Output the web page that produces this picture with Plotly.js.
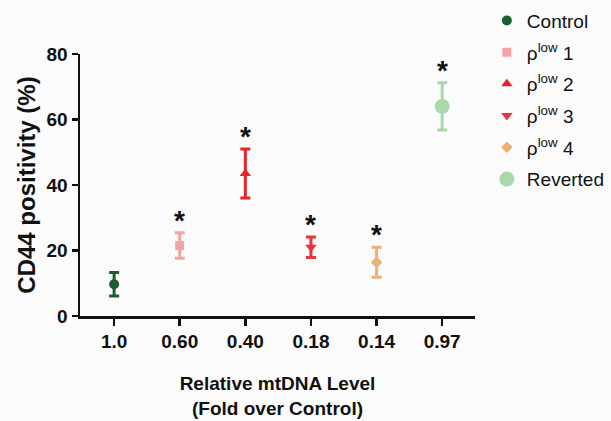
<!DOCTYPE html>
<html><head><meta charset="utf-8">
<script src="https://cdn.plot.ly/plotly-3.0.1.min.js"></script>
<style>html,body{margin:0;padding:0;background:#fff}#chart{width:611px;height:421px}</style>
</head><body><div id="chart"></div>
<script>
var categories = ["1.0","0.60","0.40","0.18","0.14","0.97"];
var seriesNames = ["Control","ρ<sup>low</sup> 1","ρ<sup>low</sup> 2","ρ<sup>low</sup> 3","ρ<sup>low</sup> 4","Reverted"];
var means = [9.7, 21.5, 43.5, 21.0, 16.4, 64.0];
var errors = [3.6, 3.9, 7.5, 3.1, 4.6, 7.2];
var significant = [false, true, true, true, true, true];
var colors = ["#1d5e30","#f4a3a3","#e8242b","#e8353a","#eab277","#a9d9a9"];
var symbols = ["circle","square","triangle-up","triangle-down","diamond","circle"];
var sizes = [10, 9, 10, 10, 9, 15];

var traces = categories.map(function(c, i){
  return {
    type:'scatter', mode:'markers', name: seriesNames[i], legendgroup:'g'+i,
    x:[c], y:[means[i]],
    marker:{color:colors[i], symbol:symbols[i], size:sizes[i]},
    error_y:{type:'data', array:[errors[i]], visible:true, color:colors[i], thickness:3, width:5},
    cliponaxis:false
  };
});

var annotations = [];
categories.forEach(function(c,i){
  if(significant[i]){
    annotations.push({x:i, y:means[i]+errors[i]-1.6, xref:'x', yref:'y', text:'<b>*</b>', showarrow:false,
      yanchor:'bottom', font:{family:'Liberation Sans, Arial', size:28, color:'#111'}});
  }
});

var layout = {
  width:611, height:421,
  margin:{l:80, r:136, t:54, b:105, autoexpand:false},
  paper_bgcolor:'#fbfbfb', plot_bgcolor:'#fbfbfb',
  font:{family:'Liberation Sans, Arial, sans-serif', color:'#111'},
  showlegend:true,
  legend:{x:1.03, xanchor:'left', y:1.2, yanchor:'top', font:{size:19, color:'#111'},
    bgcolor:'rgba(0,0,0,0)', tracegroupgap:4, itemwidth:30},
  xaxis:{type:'category', categoryarray:categories, range:[-0.52,5.5], showgrid:false, zeroline:false,
    showline:true, linecolor:'#111', linewidth:2.5, ticks:'outside', ticklen:7, tickwidth:2.5, tickcolor:'#111',
    tickfont:{size:19, family:'Liberation Sans, Arial', weight:'bold'},
    title:{text:'<b>Relative mtDNA Level<br>(Fold over Control)</b>', font:{size:19}, standoff:26}},
  yaxis:{range:[0,80], tickvals:[0,20,40,60,80], showgrid:false, zeroline:false,
    showline:true, linecolor:'#111', linewidth:2.5, ticks:'outside', ticklen:6, tickwidth:2.5, tickcolor:'#111',
    tickfont:{size:19, family:'Liberation Sans, Arial', weight:'bold'},
    title:{text:'<b>CD44 positivity (%)</b>', font:{size:24}, standoff:4}},
  annotations:annotations
};
Plotly.newPlot('chart', traces, layout, {displayModeBar:false, staticPlot:true});
</script></body></html>
